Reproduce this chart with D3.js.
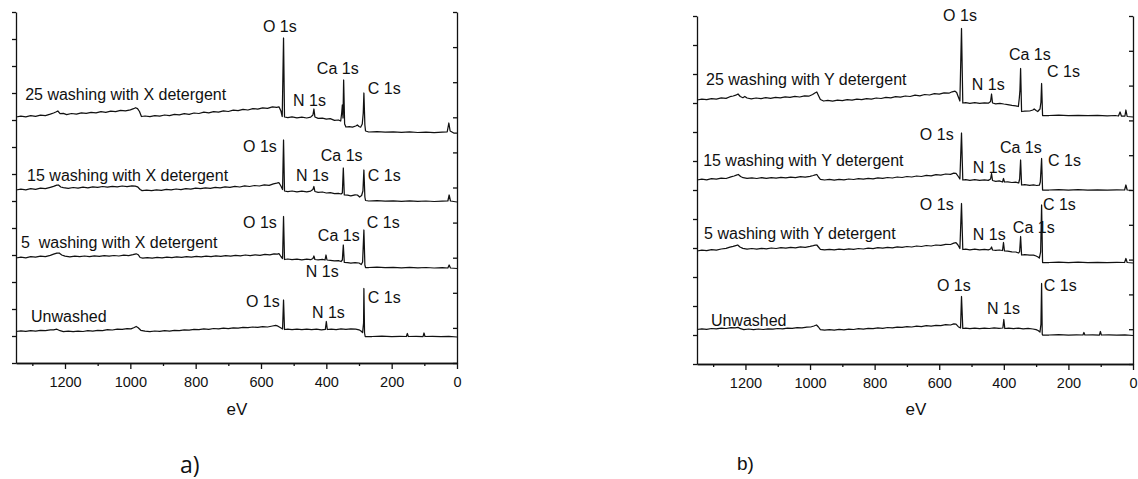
<!DOCTYPE html>
<html>
<head>
<meta charset="utf-8">
<script src="https://cdn.jsdelivr.net/npm/d3@7"></script>
<style>
  body { margin: 0; background: #fff; }
  svg { display: block; }
  text { font-family: "Liberation Sans", Arial, sans-serif; }
</style>
</head>
<body>
<svg id="chart" width="1138" height="479"></svg>
<script>
// binding energy ticks (eV)
const majorTicks = [1200, 1000, 800, 600, 400, 200, 0];
const minorTicks = [1300, 1100, 900, 700, 500, 300, 100];

// spectra, [eV, intensity a.u. incl. stacking offset] - panel a) X detergent
const aUnwashed = [[1350,31.5],[1335,32.2],[1320,31.6],[1305,32.4],[1290,31.9],[1275,32.7],[1260,32.3],[1245,33.1],[1235,33.2],[1225,33.8],[1215,32.3],[1205,31.4],[1190,31.9],[1175,31.3],[1160,31.9],[1145,31.5],[1130,32.3],[1115,31.9],[1100,32.7],[1085,32.4],[1070,33.3],[1055,33],[1040,33.9],[1025,33.6],[1010,34.4],[998,34.2],[988,35.5],[982,36.5],[976,35.3],[968,32.7],[955,31.8],[940,31.4],[925,32],[910,31.6],[895,32.3],[880,31.9],[865,32.7],[850,32.3],[835,33.1],[820,32.8],[805,33.6],[790,33.3],[775,34.1],[760,33.7],[745,34.5],[730,34.1],[715,34.8],[700,34.4],[685,35.2],[670,34.8],[655,35.6],[640,35.3],[625,36],[610,35.6],[595,36.4],[580,36],[565,37],[555,37.6],[548,36.8],[540,35.3],[534,34],
  [531,63],[528,33.5],
  [518,33.9],[505,33.3],[490,33.9],[475,33.3],[460,33.8],[445,33.3],[430,33.8],[415,33.2],[403,33.6],[400,41.5],[397,33.5],[385,33.9],[370,33.4],[355,34.1],[340,33.6],[325,34.2],[310,33.9],[300,33.2],[294,32],[289,30.5],[286,40],[285,74.5],[283,30],[281,26.5],
  [260,26.5],[230,26.8],[200,26.4],[175,26.7],[155,26.5],[152,29.5],[149,26.5],[125,26.7],[104,26.4],[101,30],[98,26.5],[75,26.7],[50,26.4],[25,26.6],[0,26]];
const aWash5 = [[1350,105],[1335,105.8],[1320,105.2],[1305,106.3],[1290,105.8],[1275,106.9],[1260,106.4],[1245,107.7],[1235,108.8],[1225,109.9],[1218,110],[1210,108],[1200,106.8],[1185,106.2],[1170,106.9],[1155,106.3],[1140,107],[1125,106.4],[1110,107.1],[1095,106.6],[1080,107.3],[1065,106.8],[1050,107.5],[1035,107],[1020,107.8],[1005,107.3],[992,108.3],[982,109.2],[976,108.3],[970,105.5],[962,104.9],[948,105.4],[933,104.8],[918,105.6],[903,105.1],[888,105.9],[873,105.3],[858,106.1],[843,105.6],[828,106.4],[813,105.9],[798,106.6],[783,106.1],[768,106.9],[753,106.3],[738,107.1],[723,106.6],[708,107.4],[693,106.9],[678,107.7],[663,107.2],[648,108],[633,107.4],[618,108.2],[603,107.7],[588,108.6],[573,108.2],[560,109.2],[550,108.8],[545,109.3],[539,106.5],[534,104.5],
  [531,146.5],[528,103.5],
  [518,104],[505,103.3],[490,103.9],[475,103.2],[460,103.8],[448,103.3],[441,104.5],[438,107],[435,103.5],[425,103.1],[412,103.6],[404,103],[401,108],[398,103],[388,102.6],[375,102.1],[363,102.3],[355,101.5],[351,103],[348,118],[345,100.5],[335,100.4],[325,99.8],[312,100.3],[300,100],[293,98.5],[289,101],[285,133],[282,98],[280,95.5],
  [270,95.5],[245,95.8],[220,95.3],[195,95.7],[170,95.2],[145,95.6],[120,95.1],[95,95.5],[70,95],[45,95.3],[28,95],[24,98],[20,95],[0,94.5]];
const aWash15 = [[1350,173],[1335,173.8],[1320,173.2],[1305,174.3],[1290,173.7],[1275,174.9],[1260,174.4],[1245,175.7],[1235,176.6],[1225,177.8],[1220,178],[1213,176],[1205,175.3],[1190,174.6],[1175,175.5],[1160,174.9],[1145,175.8],[1130,175.2],[1115,176.2],[1100,175.6],[1085,176.5],[1070,175.9],[1055,176.7],[1040,176.1],[1025,177],[1010,176.4],[995,177.2],[985,176.9],[978,176.2],[970,173.5],[964,172.4],[950,172.9],[935,172.3],[920,173.2],[905,172.7],[890,173.6],[875,173.1],[860,174],[845,173.4],[830,174.4],[815,173.9],[800,174.8],[785,174.3],[770,175.2],[755,174.6],[740,175.6],[725,175.1],[710,176.1],[695,175.6],[680,176.6],[665,176],[650,177.1],[635,176.5],[620,177.5],[605,177],[590,178.1],[575,177.6],[562,179.2],[552,179.8],[545,180.3],[539,177],[534,173.5],
  [531,223],[528,172],
  [518,171.4],[505,172],[490,171.2],[475,171.8],[460,171.1],[448,171.9],[441,173.5],[438,176.5],[435,171.5],[425,170.6],[412,171],[400,170],[388,170.3],[375,169.4],[363,169.7],[355,169],[351,170],[348,195],[345,168],[335,167.9],[325,167.2],[312,168.2],[305,168],[298,166],[292,167.5],[288,172],[285,193],[282,166],[280,162.5],
  [270,162],[245,162.4],[220,161.8],[195,162.2],[170,161.7],[145,162.1],[120,161.6],[95,162],[70,161.5],[45,161.9],[28,162],[24,168],[20,162],[0,161]];
const aWash25 = [[1350,246],[1335,246.9],[1320,246.2],[1305,247.3],[1290,246.7],[1275,247.9],[1260,247.4],[1245,248.8],[1235,250],[1228,251],[1222,252],[1215,249.3],[1205,249.6],[1195,248.4],[1180,249.5],[1165,248.9],[1150,250.2],[1135,249.6],[1120,250.7],[1105,250.1],[1090,251.3],[1075,250.7],[1060,251.9],[1045,251.4],[1030,252.7],[1015,252.1],[1000,253.2],[990,254.3],[984,255.3],[978,254.4],[972,251.5],[966,246.5],[955,247],[940,246.3],[925,247.4],[910,246.9],[895,248],[880,247.4],[865,248.6],[850,248.1],[835,249.3],[820,248.7],[805,250],[790,249.5],[775,250.8],[760,250.2],[745,251.4],[730,250.8],[715,252.1],[700,251.5],[685,252.8],[670,252.3],[655,253.6],[640,253],[625,254.4],[610,253.8],[595,255.2],[580,254.6],[565,256.1],[552,255.6],[545,256.2],[539,252],[535,246.5],
  [531,325],[528,246],
  [518,245.4],[505,246.1],[490,245.2],[475,245.8],[460,245],[448,245.9],[441,248],[438,254],[435,246],[425,244.6],[412,244.9],[400,243.8],[388,244.3],[375,242.7],[363,243],[356,242],[353,250],[351,258],[349,245],[347,283],[344,239],[340,236],[330,236.4],[320,235.8],[310,237],[305,238],[300,236.5],[295,235.8],[290,239],[287,250],[285,270],[282,238],[280,232],
  [270,231],[245,231.4],[220,230.8],[195,231.2],[170,230.7],[145,231.1],[120,230.5],[95,230.9],[70,230.4],[45,230.8],[30,231],[25,240],[21,232],[10,230],[0,230]];

// panel b) Y detergent
const bUnwashed = [[1350,34.5],[1335,35.2],[1320,34.7],[1305,35.5],[1290,35.1],[1275,35.9],[1260,35.5],[1245,36.3],[1232,36.2],[1223,36.6],[1215,35.3],[1205,34.4],[1190,35],[1175,34.4],[1160,35],[1145,34.5],[1130,35.2],[1115,34.8],[1100,35.5],[1085,35.2],[1070,35.9],[1055,35.6],[1040,36.3],[1025,36.1],[1010,36.9],[998,37],[988,38],[980,39],[974,37],[968,34.3],[955,33.8],[940,34.4],[925,33.9],[910,34.6],[895,34.2],[880,34.9],[865,34.5],[850,35.3],[835,34.9],[820,35.6],[805,35.3],[790,36.1],[775,35.7],[760,36.5],[745,36.1],[730,36.9],[715,36.6],[700,37.4],[685,37],[670,37.8],[655,37.4],[640,38.3],[625,37.9],[610,38.7],[595,38.4],[580,39.3],[565,39],[555,40.2],[548,39.8],[541,37.3],[534,36],
  [531,67.5],[527,35.5],
  [518,35.9],[505,35.3],[490,35.9],[475,35.3],[460,35.8],[445,35.5],[430,36.1],[415,35.6],[403,36],[400,44.5],[397,35.5],[385,35.9],[370,35.3],[355,35.9],[340,35.2],[325,35.7],[310,35],[300,34.4],[294,33.5],[288,32],[285,40],[283,80.5],[281,30],[280,29],
  [260,29],[230,29.3],[200,28.9],[175,29.2],[155,29],[152,31.5],[149,29],[125,29.2],[104,28.9],[101,32.5],[98,29],[75,29.2],[50,28.9],[25,29.1],[0,28.5]];
const bWash5 = [[1350,113],[1335,113.8],[1320,113.3],[1305,114.3],[1290,113.9],[1275,115],[1260,115.6],[1248,116.8],[1238,117.6],[1230,118.4],[1224,119],[1217,117],[1208,115.6],[1195,114.8],[1180,115.5],[1165,114.9],[1150,115.7],[1135,115.1],[1120,116],[1105,115.5],[1090,116.3],[1075,115.8],[1060,116.7],[1045,116.2],[1030,117.1],[1015,116.7],[1000,117.6],[990,118.3],[984,118.8],[979,119],[974,117],[968,114.6],[955,114.1],[940,114.7],[925,114.1],[910,114.9],[895,114.4],[880,115.2],[865,114.7],[850,115.5],[835,115],[820,115.9],[805,115.4],[790,116.3],[775,115.8],[760,116.7],[745,116.2],[730,117.1],[715,116.6],[700,117.5],[685,117],[670,118],[655,117.5],[640,118.5],[625,118],[610,119],[595,118.6],[580,119.7],[565,119.5],[555,120.8],[548,121.3],[542,119],[536,115.5],
  [531,160.5],[527,114.5],
  [518,114.9],[505,114.2],[490,114.8],[475,114.1],[460,114.7],[448,114.2],[441,115],[438,117],[435,114],[425,113.6],[414,114],[404,113.5],[401,121.5],[398,113],[388,112.8],[375,112.1],[363,112],[354,111],[351,112.5],[348,127.5],[345,109],[335,109.3],[320,108.8],[308,108.9],[300,108],[294,107],[290,106],[286,112],[283,159],[280,101.5],
  [260,101.5],[230,101.9],[200,101.4],[170,101.8],[140,101.3],[110,101.7],[80,101.3],[50,101.6],[26,101.5],[22,105.5],[18,101.5],[0,101]];
const bWash15 = [[1350,184],[1335,184.8],[1320,184.2],[1305,185.3],[1290,184.8],[1275,185.9],[1260,185.5],[1245,187.2],[1235,188],[1228,188.8],[1222,189.5],[1215,187.5],[1207,186.3],[1195,185.6],[1180,186.2],[1165,185.5],[1150,186.3],[1135,185.7],[1120,186.4],[1105,185.9],[1090,186.7],[1075,186.1],[1060,186.9],[1045,186.4],[1030,187.3],[1015,186.8],[1000,187.7],[990,188.5],[984,189.2],[979,189.5],[974,187],[968,184.7],[955,184],[940,184.6],[925,183.9],[910,184.7],[895,184.2],[880,185],[865,184.5],[850,185.3],[835,184.8],[820,185.7],[805,185.2],[790,186.1],[775,185.6],[760,186.5],[745,186],[730,187],[715,186.5],[700,187.5],[685,187],[670,188],[655,187.5],[640,188.6],[625,188.1],[610,189.3],[595,188.9],[580,190],[565,189.7],[555,190.8],[548,190.6],[542,188],[536,185],
  [531,231],[527,184],
  [518,184.4],[505,183.7],[490,184.3],[475,183.6],[460,184.1],[448,183.6],[441,185],[438,190.5],[435,183.5],[425,182.7],[414,183.1],[404,182],[401,185.5],[398,182],[388,182.2],[375,181.5],[363,181.8],[354,181],[351,185],[348,204],[345,179],[335,179.3],[320,178.7],[308,179.2],[298,178.5],[290,178.8],[287,182],[283,205.5],[280,174],
  [260,174],[230,174.4],[200,173.9],[170,174.3],[140,173.8],[110,174.2],[80,173.8],[50,174.1],[26,174],[22,179],[18,174],[0,173.5]];
const bWash25 = [[1350,264],[1335,264.9],[1320,264.3],[1305,265.4],[1290,264.9],[1275,266.1],[1260,265.6],[1248,267.3],[1238,268],[1230,268.8],[1223,270],[1216,267.5],[1208,266.3],[1202,267.6],[1195,266],[1182,265.2],[1167,266],[1152,265.3],[1137,266.3],[1122,265.7],[1107,266.7],[1092,266.1],[1077,267.1],[1062,266.6],[1047,267.6],[1032,267],[1017,268.2],[1004,267.8],[992,269.5],[985,271],[979,272],[974,268.5],[968,264.5],[958,263],[945,263.6],[930,262.9],[915,263.8],[900,263.3],[885,264.3],[870,263.8],[855,264.8],[840,264.3],[825,265.4],[810,264.9],[795,266],[780,265.5],[765,266.7],[750,266.2],[735,267.4],[720,266.9],[705,268],[690,267.5],[675,268.8],[660,268.2],[645,269.5],[630,269],[615,270.3],[600,269.8],[585,271.2],[570,270.8],[560,272.2],[551,272.8],[546,271.5],[542,268],[536,263],
  [531,335.5],[527,261],
  [518,261.4],[505,260.7],[490,261.3],[475,260.6],[460,261.2],[448,260.8],[441,262.5],[438,270],[435,261],[425,260.2],[412,260.7],[400,260],[388,259.4],[375,258.6],[363,258.2],[355,257.5],[352,266],[350,274],[348,295.5],[345,252.5],[335,252.8],[320,253],[310,254],[306,255],[300,253.5],[295,252.5],[288,255],[285,262],[283,280.5],[280,248.5],
  [260,248.5],[230,248.9],[200,248.4],[170,248.7],[140,248.3],[110,248.6],[80,248.2],[55,248.5],[45,248],[40,252],[36,248],[25,248],[22,254],[18,247.5],[0,247]];

// peak / sample labels: [text, eV at text start, intensity at baseline]
const aLabels = [
  ["25 washing with X detergent",1322,263],["O 1s",594,331],["Ca 1s",429,289],["C 1s",273,269],["N 1s",502,257],
  ["15 washing with X detergent",1316,182],["O 1s",655,211],["Ca 1s",417,202],["N 1s",493,182],["C 1s",273,182],
  ["5  washing with X detergent",1335,115],["O 1s",655,135],["C 1s",276,135],["Ca 1s",426,122],["N 1s",463,86],
  ["Unwashed",1304,41],["O 1s",646,56],["C 1s",273,60],["N 1s",444,45]
];
const bLabels = [
  ["25 washing with Y detergent",1322,279],["O 1s",588,343],["Ca 1s",384,304],["C 1s",266,287],["N 1s",499,274],
  ["15 washing with Y detergent",1331,198],["O 1s",660,224],["Ca 1s",412,211],["N 1s",496,191],["C 1s",263,198],
  ["5 washing with Y detergent",1328,125],["O 1s",660,154],["C 1s",279,154],["Ca 1s",372,131],["N 1s",496,124],
  ["Unwashed",1307,38],["O 1s",607,73],["C 1s",276,73],["N 1s",452,50]
];

const svg = d3.select("#chart");
svg.append("rect").attr("width", 1138).attr("height", 479).attr("fill", "#fff");

const FONT = "'Liberation Sans', Arial, sans-serif";

function drawPanel(p) {
  const x = d3.scaleLinear().domain([1350, 0]).range([p.left, p.right]);
  const y = d3.scaleLinear().domain([0, p.ymax]).range([p.bottom, p.top]);
  const g = svg.append("g");

  // left axis, outward ticks
  const leftTicks = d3.range(p.nLeft + 1).map(i => i * p.ymax / p.nLeft);
  g.append("g").attr("transform", `translate(${p.left},0)`)
    .call(d3.axisLeft(y).tickValues(leftTicks).tickSize(4).tickSizeOuter(0).tickFormat(""));
  // right axis, ticks pointing inward
  const rightTicks = d3.range(p.nRight + 1).map(i => i * p.ymax / p.nRight);
  g.append("g").attr("transform", `translate(${p.right},0)`)
    .call(d3.axisLeft(y).tickValues(rightTicks).tickSize(4).tickSizeOuter(0).tickFormat(""));

  // bottom axis
  g.append("g").attr("transform", `translate(0,${p.bottom})`)
    .call(d3.axisBottom(x).tickValues(minorTicks).tickSize(3).tickSizeOuter(0).tickFormat(""));
  const xa = g.append("g").attr("transform", `translate(0,${p.bottom})`)
    .call(d3.axisBottom(x).tickValues(majorTicks).tickSize(6).tickSizeOuter(0)
      .tickPadding(8).tickFormat(d3.format("d")));
  xa.attr("font-family", FONT);
  xa.selectAll("text").attr("font-size", 14.5).attr("fill", "#111");

  g.selectAll(".domain, .tick line").attr("stroke", "#111").attr("stroke-width", 1.3);

  const line = d3.line().x(d => x(d[0])).y(d => y(d[1]));
  g.selectAll("path.spec").data(p.series).join("path")
    .attr("class", "spec")
    .attr("d", line)
    .attr("fill", "none")
    .attr("stroke", "#111")
    .attr("stroke-width", 1.25)
    .attr("stroke-linejoin", "round");

  g.selectAll("text.lab").data(p.labels).join("text")
    .attr("class", "lab")
    .attr("x", d => x(d[1]))
    .attr("y", d => y(d[2]))
    .attr("font-family", FONT)
    .attr("font-size", 16)
    .attr("fill", "#111")
    .style("white-space", "pre")
    .text(d => d[0]);

  g.append("text")
    .attr("x", p.evX).attr("y", 415)
    .attr("text-anchor", "middle")
    .attr("font-family", FONT).attr("font-size", 17).attr("fill", "#111")
    .text("eV");

  svg.append("text")
    .attr("x", p.capX).attr("y", p.capY)
    .style("font-family", p.capFont).attr("font-size", p.capSize).attr("fill", "#111")
    .text(p.caption);
}

drawPanel({
  left: 16, right: 457, top: 12, bottom: 363, ymax: 351, nLeft: 13, nRight: 10,
  series: [aUnwashed, aWash5, aWash15, aWash25], labels: aLabels,
  evX: 237, caption: "a)", capX: 180, capY: 473, capFont: "'Open Sans', sans-serif", capSize: 23
});
drawPanel({
  left: 697, right: 1133, top: 16, bottom: 364, ymax: 348, nLeft: 12, nRight: 10,
  series: [bUnwashed, bWash5, bWash15, bWash25], labels: bLabels,
  evX: 916, caption: "b)", capX: 737, capY: 470, capFont: FONT, capSize: 19
});
</script>
</body>
</html>
